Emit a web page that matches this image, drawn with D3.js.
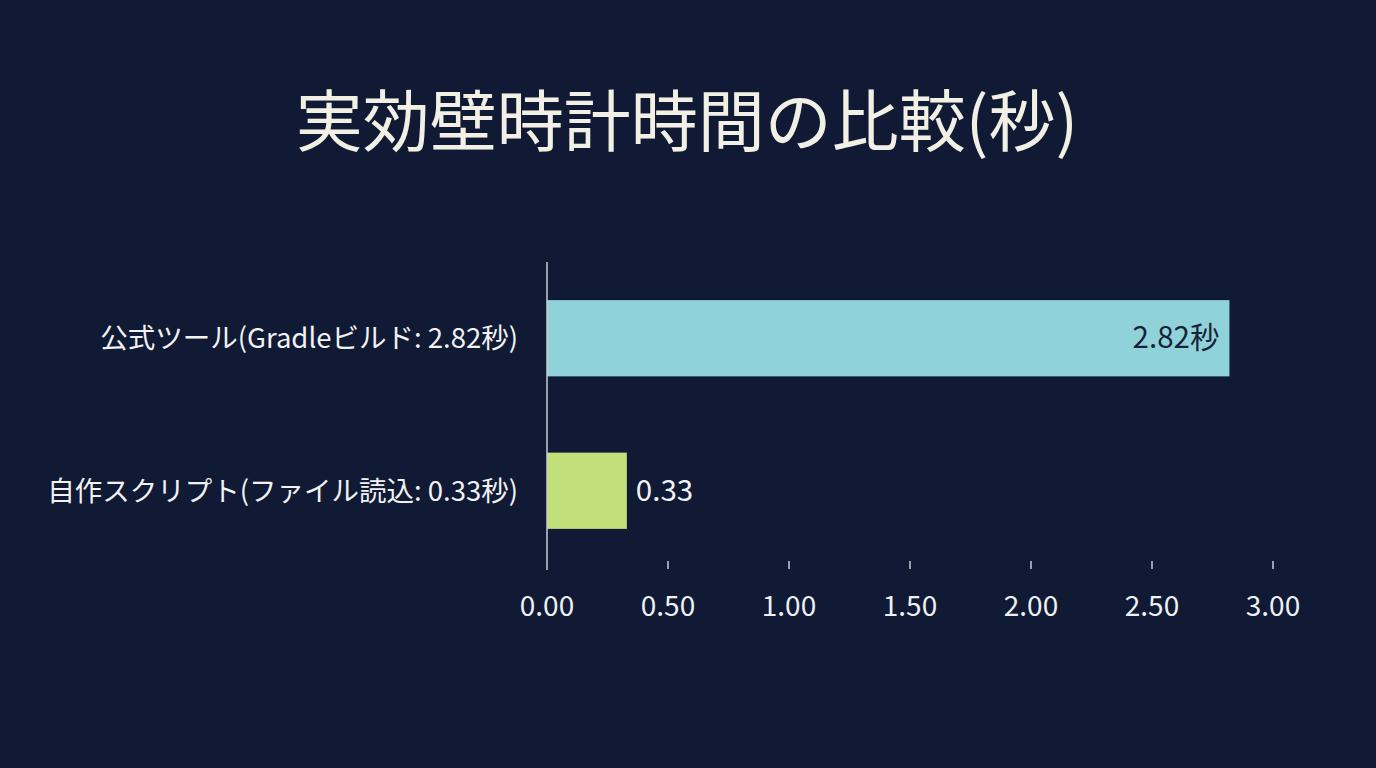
<!DOCTYPE html>
<html><head><meta charset="utf-8">
<script src="https://cdn.jsdelivr.net/npm/d3@7"></script>
<style>
html,body{margin:0;padding:0;background:#101a34;}
svg{display:block;font-family:"Noto Sans CJK JP","Noto Sans",sans-serif;}
</style></head><body>
<svg id="c" width="1376" height="768"></svg>
<script>
const title = "実効壁時計時間の比較(秒)";
const categories = ["公式ツール(Gradleビルド: 2.82秒)", "自作スクリプト(ファイル読込: 0.33秒)"];
const values = [2.82, 0.33];
const valueLabels = ["2.82秒", "0.33"];
const colors = ["#8fd3d8", "#c2e07a"];
const ticks = [0, 0.5, 1, 1.5, 2, 2.5, 3];

const svg = d3.select("#c");
svg.append("rect").attr("width",1376).attr("height",768).attr("fill","#101a34");

svg.append("text").attr("x",687).attr("y",146).attr("text-anchor","middle")
  .attr("font-size",67).attr("fill","#f2efe4").text(title);

const x = d3.scaleLinear().domain([0,3]).range([547,1273]);
const y = d3.scaleBand().domain(categories).range([262,567]).paddingInner(0.5).paddingOuter(0.25);

svg.selectAll("rect.bar").data(values).join("rect").attr("class","bar")
  .attr("x",x(0)).attr("y",(d,i)=>y(categories[i]))
  .attr("width",d=>x(d)-x(0)).attr("height",y.bandwidth())
  .attr("fill",(d,i)=>colors[i]);

// axis line
svg.append("line").attr("x1",x(0)).attr("x2",x(0)).attr("y1",262).attr("y2",570)
  .attr("stroke","#c8ccd6").attr("stroke-width",1.5);

// x ticks
const xa = svg.append("g");
ticks.forEach((t,i)=>{
  if(i>0) xa.append("line").attr("x1",x(t)).attr("x2",x(t)).attr("y1",561).attr("y2",569)
    .attr("stroke","#c8ccd6").attr("stroke-width",1.5);
  xa.append("text").attr("x",x(t)).attr("y",616).attr("text-anchor","middle")
    .attr("font-size",28).attr("fill","#eef0f4").text(d3.format(".2f")(t));
});

// category labels
svg.selectAll("text.cat").data(categories).join("text").attr("class","cat")
  .attr("x",518).attr("y",d=>y(d)+y.bandwidth()/2+10).attr("text-anchor","end")
  .attr("font-size",27.5).attr("fill","#f2f2f2").text(d=>d);

// value labels
values.forEach((v,i)=>{
  const inside = i===0;
  svg.append("text")
    .attr("x", inside ? x(v)-10 : x(v)+9)
    .attr("y", y(categories[i])+y.bandwidth()/2+10)
    .attr("text-anchor", inside ? "end":"start")
    .attr("font-size",29.5).attr("fill", inside ? "#17233a" : "#f2f2f2")
    .text(valueLabels[i]);
});
</script></body></html>
